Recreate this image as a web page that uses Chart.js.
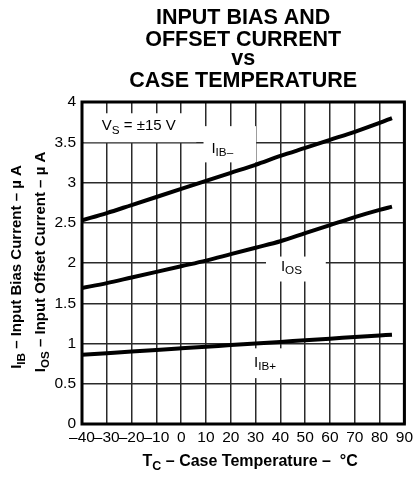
<!DOCTYPE html>
<html>
<head>
<meta charset="utf-8">
<script src="https://cdn.jsdelivr.net/npm/chart.js@4.4.0/dist/chart.umd.min.js"></script>
<style>
  html, body { margin: 0; padding: 0; background: #fff; }
  #wrap { width: 417px; height: 479px; }
</style>
</head>
<body>
<div id="wrap"><canvas id="c" width="417" height="479"></canvas></div>
<script>
// temperatures (°C) and currents (µA)
const temps = [-40, -30, -20, -10, 0, 10, 20, 30, 40, 50, 60, 70, 80, 85];
const iibMinus = [2.53, 2.62, 2.72, 2.82, 2.92, 3.02, 3.12, 3.22, 3.33, 3.43, 3.53, 3.63, 3.74, 3.80];
const iosVals = [1.69, 1.75, 1.82, 1.89, 1.96, 2.03, 2.11, 2.19, 2.27, 2.37, 2.47, 2.57, 2.66, 2.70];
const iibPlus = [0.86, 0.88, 0.90, 0.92, 0.94, 0.96, 0.98, 1.00, 1.02, 1.04, 1.06, 1.08, 1.10, 1.11];

const xTicks = [-40, -30, -20, -10, 0, 10, 20, 30, 40, 50, 60, 70, 80, 90];
const yTicks = [0, 0.5, 1, 1.5, 2, 2.5, 3, 3.5, 4];

const titleLines = ['INPUT BIAS AND', 'OFFSET CURRENT', 'vs', 'CASE TEMPERATURE'];

const FONT = '"Liberation Sans", Arial, Helvetica, sans-serif';

function pts(ys) {
  return temps.map((t, i) => ({ x: t, y: ys[i] }));
}

// draw text made of pieces, some of them subscripts
function richWidth(ctx, parts, size, bold) {
  let w = 0;
  parts.forEach(p => {
    ctx.font = (bold ? 'bold ' : '') + (p.sub ? size * 0.78 : size) + 'px ' + FONT;
    w += ctx.measureText(p.t).width;
  });
  return w;
}
function drawRich(ctx, parts, x, y, size, bold) {
  parts.forEach(p => {
    const s = p.sub ? size * 0.78 : size;
    ctx.font = (bold ? 'bold ' : '') + s + 'px ' + FONT;
    ctx.fillText(p.t, x, p.sub ? y + size * 0.28 : y);
    x += ctx.measureText(p.t).width;
  });
}

// labels inside the plot: [text parts, x, y, box x0, x1, y0, y1] in data units
const notes = [
  [[{ t: 'V' }, { t: 'S', sub: true }, { t: ' = ±15 V' }], -32.0, 3.70, -39.4, 6.1, 3.86, 3.50],
  [[{ t: 'I' }, { t: 'IB–', sub: true }], 12.2, 3.42, 9.0, 30.2, 3.70, 3.25],
  [[{ t: 'I' }, { t: 'OS', sub: true }], 40.2, 1.95, 34.2, 58.3, 2.08, 1.77],
  [[{ t: 'I' }, { t: 'IB+', sub: true }], 29.4, 0.76, 27.4, 43.5, 0.94, 0.57]
];

const decor = {
  id: 'decor',
  beforeDatasetsDraw(chart) {
    const { ctx, scales: { x, y } } = chart;
    ctx.save();
    ctx.fillStyle = '#fff';
    notes.forEach(n => {
      const x0 = x.getPixelForValue(n[3]), x1 = x.getPixelForValue(n[4]);
      const y0 = y.getPixelForValue(n[5]), y1 = y.getPixelForValue(n[6]);
      ctx.fillRect(x0, y0, x1 - x0, y1 - y0);
    });
    ctx.fillStyle = '#000';
    ctx.textBaseline = 'middle';
    ctx.textAlign = 'left';
    notes.forEach(n => {
      drawRich(ctx, n[0], x.getPixelForValue(n[1]), y.getPixelForValue(n[2]), 15, false);
    });
    ctx.restore();
  },
  afterDraw(chart) {
    const { ctx, chartArea: a } = chart;
    ctx.save();
    // frame
    ctx.strokeStyle = '#000';
    ctx.lineWidth = 3;
    ctx.strokeRect(a.left, a.top, a.right - a.left, a.bottom - a.top);

    ctx.fillStyle = '#000';
    ctx.textAlign = 'center';
    ctx.textBaseline = 'alphabetic';
    // title
    const cx = (a.left + a.right) / 2;
    const base = [24, 46, 65, 87];
    titleLines.forEach((s, i) => {
      ctx.font = 'bold 21.5px ' + FONT;
      ctx.fillText(s, cx, base[i]);
    });

    // x title
    ctx.textAlign = 'left';
    const xt = [{ t: 'T' }, { t: 'C', sub: true }, { t: ' – Case Temperature –  °C' }];
    const xw = richWidth(ctx, xt, 16, true);
    drawRich(ctx, xt, cx + 7 - xw / 2, 466, 16, true);

    // y titles (rotated)
    const yt1 = [{ t: 'I' }, { t: 'IB', sub: true }, { t: ' – Input Bias Current – µ A' }];
    const yt2 = [{ t: 'I' }, { t: 'OS', sub: true }, { t: ' – Input Offset Current – µ A' }];
    [[yt1, 21, 267], [yt2, 45, 262]].forEach(([parts, px, py]) => {
      ctx.save();
      ctx.translate(px, py);
      ctx.rotate(-Math.PI / 2);
      const w = richWidth(ctx, parts, 15, true);
      drawRich(ctx, parts, -w / 2, 0, 15, true);
      ctx.restore();
    });
    ctx.restore();
  }
};

const lineStyle = {
  borderColor: '#000',
  borderWidth: 4,
  pointRadius: 0,
  cubicInterpolationMode: 'monotone',
  fill: false
};

new Chart(document.getElementById('c'), {
  type: 'line',
  data: {
    datasets: [
      Object.assign({ label: 'IIB-', data: pts(iibMinus) }, lineStyle),
      Object.assign({ label: 'IOS', data: pts(iosVals) }, lineStyle),
      Object.assign({ label: 'IIB+', data: pts(iibPlus) }, lineStyle)
    ]
  },
  options: {
    responsive: false,
    animation: false,
    layout: { padding: { left: 0, top: 102, right: 11, bottom: 0 } },
    plugins: {
      legend: { display: false },
      tooltip: { enabled: false },
      title: { display: false }
    },
    scales: {
      x: {
        type: 'linear',
        min: -40,
        max: 90,
        afterBuildTicks(s) { s.ticks = xTicks.map(v => ({ value: v })); },
        afterFit(s) { s.height = 55; },
        grid: { color: '#2a2a2a', lineWidth: 1.5, drawTicks: false },
        border: { display: false },
        ticks: {
          padding: 4,
          color: '#000',
          font: { family: FONT, size: 15.5 },
          maxRotation: 0,
          autoSkip: false,
          callback: v => String(v).replace('-', '–')
        }
      },
      y: {
        min: 0,
        max: 4,
        afterBuildTicks(s) { s.ticks = yTicks.map(v => ({ value: v })); },
        afterFit(s) { s.width = 82; },
        grid: { color: '#2a2a2a', lineWidth: 1.5, drawTicks: false },
        border: { display: false },
        ticks: {
          padding: 6,
          color: '#000',
          font: { family: FONT, size: 15.5 },
          callback: v => String(v)
        }
      }
    }
  },
  plugins: [decor]
});
</script>
</body>
</html>
